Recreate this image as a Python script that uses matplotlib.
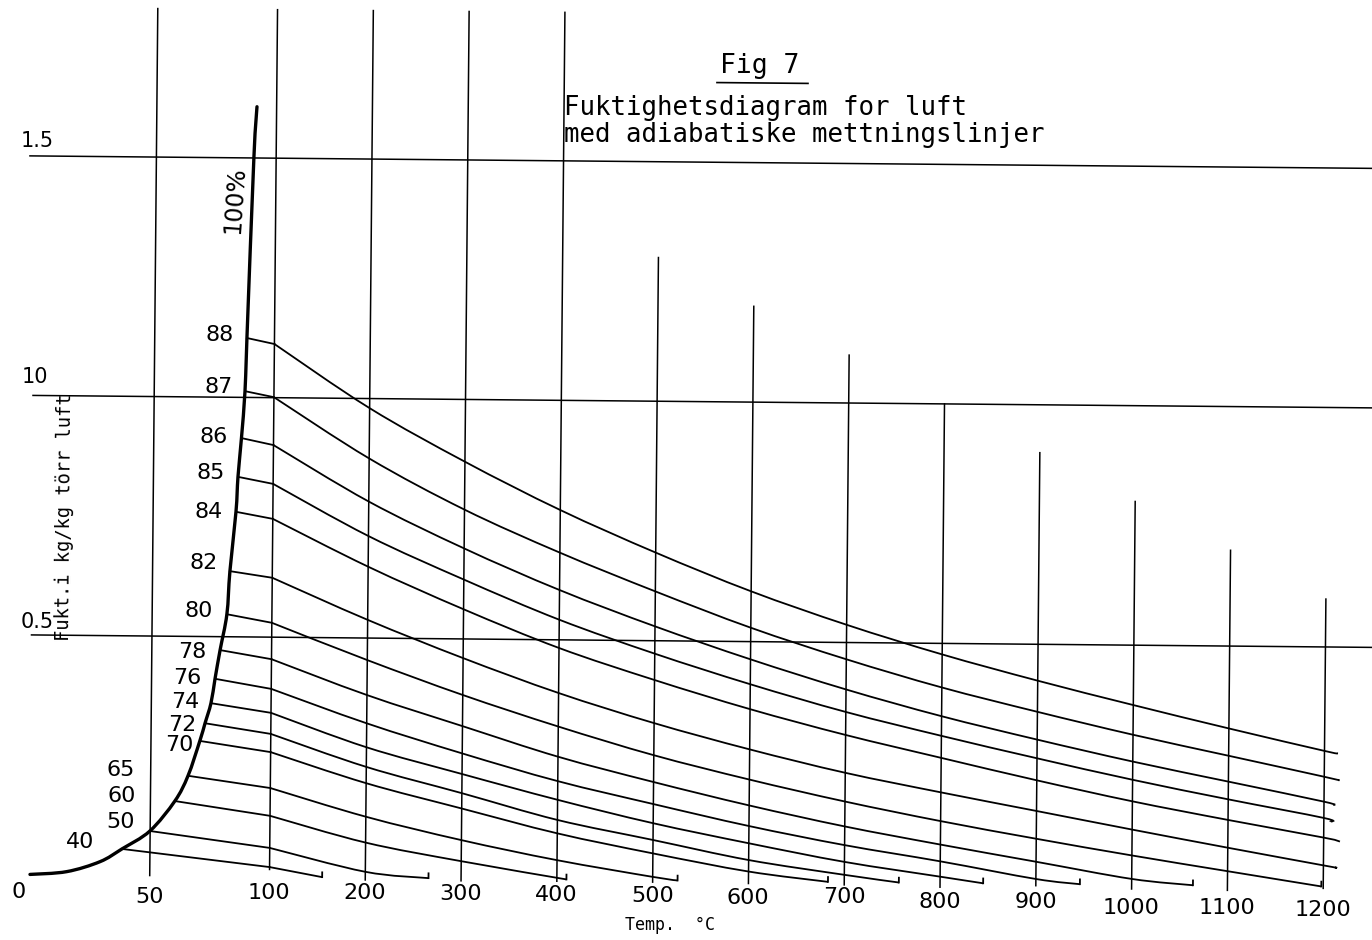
import matplotlib
matplotlib.use('Agg')
import matplotlib.pyplot as plt
from matplotlib.transforms import Affine2D
from matplotlib.path import Path
from matplotlib.patches import PathPatch
import numpy as np

# Adiabatic saturation lines, labelled by saturation temperature
wet_bulb = [40, 50, 60, 65, 70, 72, 74, 76, 78, 80, 82, 84, 85, 86, 87, 88]
start_temp = [38.3, 49.9, 60.2, 65.6, 70.4, 72.5, 74.9, 76.5, 78.5, 81.2, 82.3, 84.6, 85.3, 86.6, 87.9, 88.5]
start_hum = [0.055, 0.093, 0.156, 0.209, 0.282, 0.319, 0.361, 0.412, 0.472, 0.547,
             0.637, 0.761, 0.834, 0.915, 1.013, 1.124]

# Saturation curve (100 %): temperature C, humidity kg/kg (the line starts sit on it)
sat_low_temp = [0, 15.3, 29.2]
sat_low_hum = [0.0, 0.0065, 0.028]
sat_top_temp = [90.7, 91.8]
sat_top_hum = [1.50, 1.607]

grid_temp = [100, 200, 300, 400, 500, 600, 700, 800, 900, 1000, 1100, 1200]
hum_40 = [0.020]
hum_50 = [0.060, 0.012]
hum_60 = [0.127, 0.073, 0.036]
hum_65 = [0.185, 0.127, 0.080, 0.040, 0.007]
hum_70 = [0.260, 0.197, 0.146, 0.096, 0.056, 0.020]
hum_72 = [0.298, 0.231, 0.178, 0.124, 0.084, 0.044, 0.015]
hum_74 = [0.342, 0.272, 0.218, 0.166, 0.119, 0.079, 0.042, 0.013]
hum_76 = [0.392, 0.322, 0.261, 0.205, 0.159, 0.115, 0.077, 0.045, 0.010]
hum_78 = [0.454, 0.381, 0.318, 0.256, 0.205, 0.158, 0.116, 0.080, 0.046, 0.012]
hum_80 = [0.530, 0.454, 0.383, 0.319, 0.261, 0.212, 0.168, 0.129, 0.094, 0.061, 0.030]
hum_82 = [0.624, 0.538, 0.460, 0.389, 0.328, 0.275, 0.228, 0.189, 0.152, 0.115, 0.079, 0.044]
hum_84 = [0.747, 0.649, 0.562, 0.483, 0.418, 0.359, 0.307, 0.261, 0.216, 0.174, 0.137, 0.102]
hum_85 = [0.820, 0.713, 0.624, 0.542, 0.473, 0.411, 0.355, 0.307, 0.262, 0.219, 0.180, 0.143]
hum_86 = [0.901, 0.785, 0.689, 0.604, 0.530, 0.463, 0.402, 0.348, 0.301, 0.257, 0.217, 0.177]
hum_87 = [1.001, 0.875, 0.770, 0.682, 0.603, 0.529, 0.465, 0.408, 0.359, 0.313, 0.271, 0.229]
hum_88 = [1.112, 0.980, 0.870, 0.771, 0.684, 0.605, 0.537, 0.477, 0.424, 0.375, 0.328, 0.283]
end_temp = [155, 266, 410, 526, 683, 757, 845, 946, 1064, 1198, 1212, 1217, 1207, 1210, 1215, 1214]
end_hum = [0, 0, 0, 0, 0, 0, 0, 0, 0, 0, 0.040, 0.094, 0.135, 0.170, 0.222, 0.278]

# Grid
vline_temp = [50, 100, 200, 300, 400, 500, 600, 700, 800, 900, 1000, 1100, 1200]
vline_top = [1.81, 1.81, 1.81, 1.81, 1.81, 1.3, 1.2, 1.1, 1.0, 0.9, 0.8, 0.7, 0.6]
vline_bottom = [0.0, 0.015, -0.005, -0.005, -0.004, -0.004, -0.005, -0.006, -0.009, -0.004, -0.009, -0.010, -0.004]
hline_hum = [0.5, 1.0, 1.5]
xtick_text = ['0', '50', '100', '200', '300', '400', '500', '600', '700', '800', '900', '1000', '1100', '1200']
ytick_text = ['0.5', '10', '1.5']

all_hum = [hum_40, hum_50, hum_60, hum_65, hum_70, hum_72, hum_74, hum_76,
           hum_78, hum_80, hum_82, hum_84, hum_85, hum_86, hum_87, hum_88]


# temperature axis is stretched 2.5x below 100 C
def fwd(t):
    t = np.asarray(t, dtype=float)
    return np.where(t < 100, 2.5 * t, t + 150)


def inv(u):
    u = np.asarray(u, dtype=float)
    return np.where(u < 250, u / 2.5, u - 150)


def smooth_path(ts, hs):
    # Catmull-Rom through the read points, as cubic Bezier segments
    p = np.column_stack([fwd(ts), np.asarray(hs, dtype=float)])
    pe = np.vstack([p[0], p, p[-1]])
    verts = [p[0]]
    codes = [Path.MOVETO]
    for i in range(len(p) - 1):
        p0, p1, p2, p3 = pe[i], pe[i + 1], pe[i + 2], pe[i + 3]
        verts += [p1 + (p2 - p0) / 6, p2 - (p3 - p1) / 6, p2]
        codes += [Path.CURVE4] * 3
    verts = np.array(verts)
    verts[:, 0] = inv(verts[:, 0])
    return Path(verts, codes)


plt.rcParams['font.family'] = ['DejaVu Sans']
mono = 'DejaVu Sans Mono'

fig = plt.figure(figsize=(13.72, 9.40), dpi=100)
ax = fig.add_axes([0, 0, 1, 1])
ax.set_xscale('function', functions=(fwd, inv))
ax.axis('off')

# the scanned sheet is turned slightly clockwise
tr = ax.transData + Affine2D().rotate_deg_around(686, 470, -0.533)

lw_grid = 1.1
lw_curve = 1.3

for t, top, bot in zip(vline_temp, vline_top, vline_bottom):
    ax.plot([t, t], [bot, top], color='k', lw=lw_grid, transform=tr)
for h, left in zip(hline_hum, [-0.3, -0.6, -2.8]):
    ax.plot([left, 1300], [h, h], color='k', lw=lw_grid, transform=tr)

sat_temp = sat_low_temp + start_temp + sat_top_temp
sat_hum = sat_low_hum + start_hum + sat_top_hum
ax.add_patch(PathPatch(smooth_path(sat_temp, sat_hum), fill=False, edgecolor='k',
                       lw=2.4, capstyle='round', transform=tr))

for t0, h0, hums, te, he in zip(start_temp, start_hum, all_hum, end_temp, end_hum):
    # straight run from the saturation curve to the 100 C line, then a smooth curve
    ax.plot([t0, grid_temp[0]], [h0, hums[0]], color='k', lw=lw_curve, transform=tr)
    xs = grid_temp[:len(hums)] + [te]
    ys = hums + [he]
    ax.add_patch(PathPatch(smooth_path(xs, ys), fill=False, edgecolor='k',
                           lw=lw_curve, transform=tr))
    if he == 0:
        ax.plot([te, te], [he, he + 0.010], color='k', lw=lw_curve, transform=tr)

# curve labels
label_temp = [20.7, 37.8, 38.1, 37.6, 61.7, 62.9, 64.0, 64.8, 66.8, 69.5, 71.4, 73.3, 74.0, 75.1, 77.0, 77.2]
label_hum = [0.0686, 0.1111, 0.1654, 0.2197, 0.273, 0.3148, 0.3629, 0.413, 0.4674, 0.5531,
             0.6535, 0.760, 0.8415, 0.9167, 1.0212, 1.1298]
for wb, lt, lh in zip(wet_bulb, label_temp, label_hum):
    ax.text(lt, lh, str(wb), fontsize=16, ha='center', va='center', transform=tr)

# x tick labels
xtick_pos = [-4.5, 50, 100, 200, 300, 400, 500, 600, 700, 800, 900, 1000, 1100, 1200]
xtick_y = [-0.037, -0.045, -0.034, -0.032, -0.032, -0.033, -0.033, -0.036, -0.031,
           -0.040, -0.038, -0.049, -0.047, -0.049]
for s, xp, yp in zip(xtick_text, xtick_pos, xtick_y):
    ax.text(xp, yp, s, fontsize=16, ha='center', va='center', transform=tr)

# y tick labels
for s, yp, xp in zip(ytick_text, [0.527, 1.0385, 1.5312], [1.9, 0.14, 0.06]):
    ax.text(xp, yp, s, fontsize=15, ha='center', va='center', transform=tr)

ax.text(13.2, 0.7468, 'Fukt.i kg/kg törr luft', fontsize=13.5, family=mono, rotation=89.5,
        ha='center', va='center', transform=tr)
ax.text(83, 1.412, '100%', fontsize=17, rotation=86, ha='center', va='center', transform=tr)
ax.text(518.5, -0.1037, 'Temp.  °C', fontsize=12, family=mono, ha='center', va='baseline', transform=tr)

# title block
ax.text(562.4, 1.6871, 'Fig 7', fontsize=19, family=mono, ha='left', va='baseline', transform=tr)
ax.plot([559.4, 654.4], [1.6664, 1.6664], color='k', lw=1.2, transform=tr)
ax.text(400, 1.5958, 'Fuktighetsdiagram for luft', fontsize=18.5, family=mono,
        ha='left', va='baseline', transform=tr)
ax.text(400.3, 1.5400, 'med adiabatiske mettningslinjer', fontsize=18.5, family=mono,
        ha='left', va='baseline', transform=tr)

ax.set_xlim(-14.1, 1246.9)
ax.set_ylim(-0.1242, 1.8382)

fig.savefig('out.png', dpi=100)
